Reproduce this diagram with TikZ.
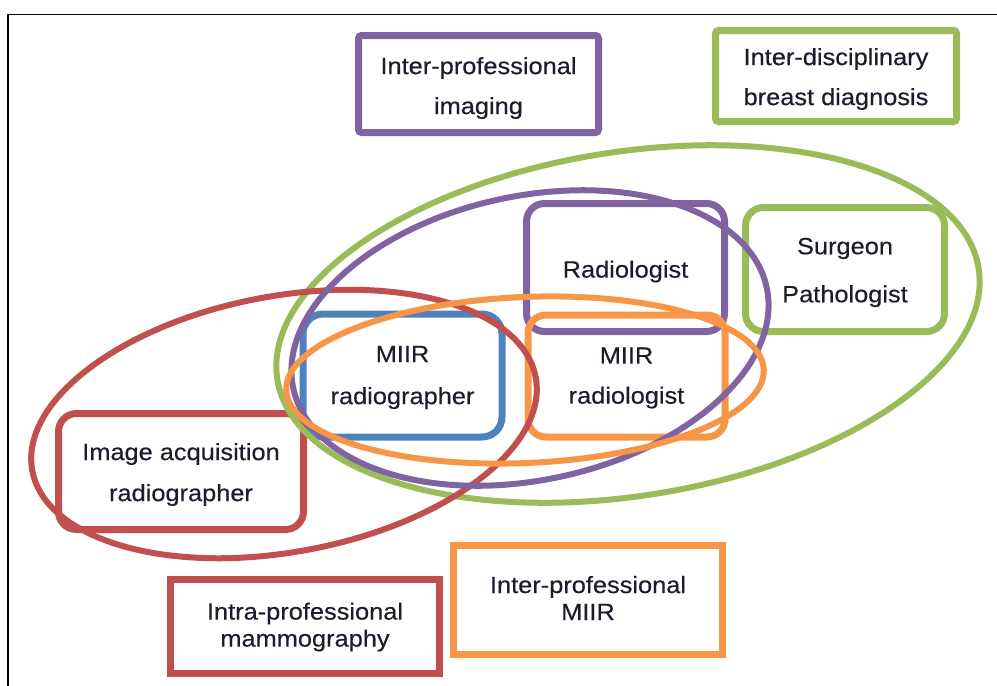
\documentclass[tikz,border=0pt]{standalone}
\usepackage{fontspec}
\setmainfont{Liberation Sans}[FakeStretch=1.08,FakeBold=0.35]
\definecolor{grpPurple}{HTML}{8064A2}
\definecolor{grpGreen}{HTML}{9BBB59}
\definecolor{grpRed}{HTML}{C0504D}
\definecolor{grpBlue}{HTML}{4F81BD}
\definecolor{grpOrange}{HTML}{F79646}
\definecolor{txt}{HTML}{1C1C2C}
\begin{document}
\begin{tikzpicture}[x=1pt,y=-1pt,
  lead/.style={font=\fontsize{23.5}{#1}\selectfont},
  every node/.style={lead=40, text=txt, align=center, inner sep=0pt, outer sep=0pt},
  rolebox/.style={draw=#1, line width=7pt, rectangle},
  zone/.style={draw=#1, line width=6pt}]
\useasboundingbox (0,0) rectangle (997,686);

% outer frame
\draw[line width=1.5pt] (8,690) -- (8,14.5) -- (1000,14.5);

% group boxes
\node[rolebox=grpPurple, rounded corners=3pt, minimum width=240pt, minimum height=97pt] (imaging) at (478.5,84) {};
\node[rolebox=grpGreen, rounded corners=3pt, minimum width=241pt, minimum height=91pt] (diagnosis) at (836,76) {};
\node[rolebox=grpRed, minimum width=269pt, minimum height=94pt] (mammo) at (305,626.5) {};
\node[rolebox=grpOrange, minimum width=269pt, minimum height=109pt] (miir) at (588,600) {};

% role boxes
\node[rolebox=grpBlue, rounded corners=20pt, minimum width=199pt, minimum height=123pt] (mrad) at (402.5,375.5) {};
\node[rolebox=grpPurple, rounded corners=18pt, minimum width=198pt, minimum height=128pt] (radiol) at (625.5,267.5) {};
\node[rolebox=grpOrange, rounded corners=18pt, minimum width=197pt, minimum height=122pt] (mradiol) at (626.5,376) {};
\node[rolebox=grpGreen, rounded corners=18pt, minimum width=199pt, minimum height=124pt] (surg) at (845,269.5) {};
\node[rolebox=grpRed, rounded corners=18pt, minimum width=245pt, minimum height=116pt] (acq) at (181,471.5) {};

% box labels
\node (imagingT) at ([yshift=-4pt]imaging.center) {Inter-professional\\imaging};
\node (diagnosisT) at ([yshift=-3pt]diagnosis.center) {Inter-disciplinary\\breast diagnosis};
\node[lead=27] (mammoT) at ([yshift=-0.5pt]mammo.center) {Intra-professional\\mammography};
\node[lead=27] (miirT) at ([yshift=2pt]miir.center) {Inter-professional\\MIIR};
\node[lead=42] (mradT) at ([yshift=-2pt]mrad.center) {MIIR\\radiographer};
\node (radiolT) at ([yshift=-4pt]radiol.center) {Radiologist};
\node (mradiolT) at ([yshift=-2pt]mradiol.center) {MIIR\\radiologist};
\node[lead=48] (surgT) at ([yshift=-3pt]surg.center) {Surgeon\\Pathologist};
\node[lead=41] (acqT) at ([yshift=-3pt]acq.center) {Image acquisition\\radiographer};

% overlapping groupings
\draw[zone=grpGreen, rotate around={9:(628,324)}] (628,324) ellipse [x radius=355pt, y radius=172pt];
\draw[zone=grpRed, rotate around={10.5:(284,424)}] (284,424) ellipse [x radius=256pt, y radius=128pt];
\draw[zone=grpPurple, rotate around={12:(530,338)}] (530,338) ellipse [x radius=242pt, y radius=142pt];
\draw[zone=grpOrange, rotate around={2.5:(525,380)}] (525,380) ellipse [x radius=239pt, y radius=83pt];
\end{tikzpicture}
\end{document}
